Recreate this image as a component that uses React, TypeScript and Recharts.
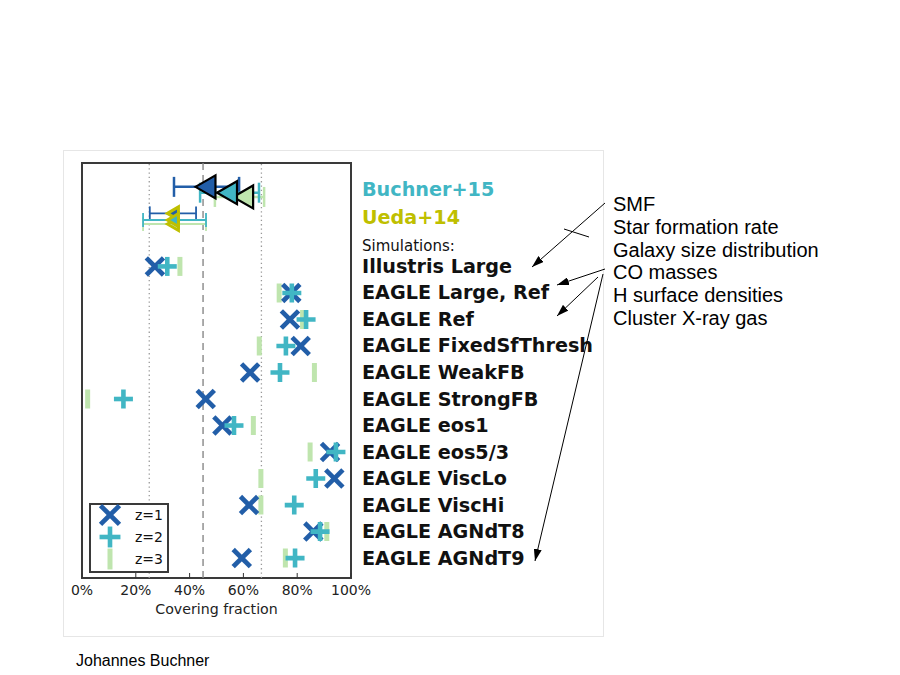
import React from 'react';
import {
  ScatterChart,
  Scatter,
  XAxis,
  YAxis,
  ErrorBar,
  ReferenceLine,
  ReferenceArea,
  Legend,
} from 'recharts';

// ---------- data ----------
const redshifts = ['z=1', 'z=2', 'z=3'];

const simNames = [
  'Illustris Large',
  'EAGLE Large, Ref',
  'EAGLE Ref',
  'EAGLE FixedSfThresh',
  'EAGLE WeakFB',
  'EAGLE StrongFB',
  'EAGLE eos1',
  'EAGLE eos5/3',
  'EAGLE ViscLo',
  'EAGLE ViscHi',
  'EAGLE AGNdT8',
  'EAGLE AGNdT9',
];
const simZ1 = [27.1, 77.8, 77.3, 81.3, 62.5, 46.0, 52.2, 92.2, 93.8, 62.1, 86.0, 59.4];
const simZ2 = [31.7, 78.0, 83.3, 75.8, 73.6, 15.4, 56.5, 94.4, 86.9, 78.9, 88.5, 79.2];
const simZ3 = [36.4, 73.3, 82.0, 65.9, 86.4, 2.1, 63.7, 84.8, 66.5, 66.5, 91.0, 75.6];

const buchnerValue = [45.9, 53.9, 59.9];
const buchnerLow = [34.2, 43.9, 49.4];
const buchnerHigh = [58.4, 65.8, 67.7];
const buchnerRow = [-3.0, -2.78, -2.62];

const uedaValue = [33.8, 33.8, 33.8];
const uedaLow = [25.2, 22.7, 22.7];
const uedaHigh = [42.4, 46.1, 46.1];
const uedaRow = [-2.0, -1.75, -1.6];

const headerLabels = ['Buchner+15', 'Ueda+14', 'Simulations:'];
const headerRows = [-2.92, -1.85, -0.8];

const xTicks = [0, 20, 40, 60, 80, 100];
const refDotted = [25, 66.7];
const refDashed = [45];

const annotationLines = [
  'SMF',
  'Star formation rate',
  'Galaxy size distribution',
  'CO masses',
  'H surface densities',
  'Cluster X-ray gas',
];

// ---------- styles ----------
const zColors = ['#225ea8', '#41b6c4', '#bfe5ae'];
const OLIVE = '#bfbf00';
const drawOrder = [2, 0, 1];

const simSeries = [simZ1, simZ2, simZ3].map((vals) =>
  vals.map((x, i) => ({ x, y: i, name: simNames[i] }))
);
const buchnerSeries = buchnerValue.map((x, k) => [
  { x, y: buchnerRow[k], err: [x - buchnerLow[k], buchnerHigh[k] - x] },
]);
const uedaSeries = uedaValue.map((x, k) => [
  { x, y: uedaRow[k], err: [x - uedaLow[k], uedaHigh[k] - x] },
]);
const yTicks = [...headerRows, ...simNames.map((_, i) => i)];

// ---------- marker shapes ----------
const drawMarker = (k: number, cx: number, cy: number, scale = 1) => {
  const c = zColors[k];
  if (k === 0) {
    const h = 8.6 * scale;
    return (
      <g>
        <line x1={cx - h} y1={cy - h} x2={cx + h} y2={cy + h} stroke={c} strokeWidth={4.7} />
        <line x1={cx - h} y1={cy + h} x2={cx + h} y2={cy - h} stroke={c} strokeWidth={4.7} />
      </g>
    );
  }
  if (k === 1) {
    const h = 9.5 * scale;
    return (
      <g>
        <line x1={cx - h} y1={cy} x2={cx + h} y2={cy} stroke={c} strokeWidth={4.6} />
        <line x1={cx} y1={cy - h} x2={cx} y2={cy + h} stroke={c} strokeWidth={4.6} />
      </g>
    );
  }
  const h = 9.5 * scale;
  return <line x1={cx} y1={cy - h} x2={cx} y2={cy + h} stroke={c} strokeWidth={5} />;
};

const triPoints = (cx: number, cy: number, w: number, h: number) =>
  `${cx - w / 2},${cy} ${cx + w / 2},${cy - h / 2} ${cx + w / 2},${cy + h / 2}`;

const RowTick = (props: any) => {
  const { x, y, payload } = props;
  const v = payload.value;
  const hi = headerRows.indexOf(v);
  if (hi === 0 || hi === 1) {
    return (
      <text x={x} y={y} dy={7} fontFamily="DejaVu Sans" fontWeight="bold" fontSize={19.2}
        fill={hi === 0 ? '#41b6c4' : OLIVE}>
        {headerLabels[hi]}
      </text>
    );
  }
  if (hi === 2) {
    return (
      <text x={x} y={y} dy={6} fontFamily="DejaVu Sans" fontSize={15} fill="#111">
        {headerLabels[hi]}
      </text>
    );
  }
  return (
    <text x={x} y={y} dy={6.5} fontFamily="DejaVu Sans" fontWeight="bold" fontSize={19.2} fill="#111">
      {simNames[v]}
    </text>
  );
};

const LegendBox = () => (
  <svg width={80} height={70} style={{ display: 'block' }}>
    <rect x={1} y={1} width={78} height={68} fill="#fff" stroke="#3a3a3a" strokeWidth={2} />
    {redshifts.map((z, k) => (
      <g key={z}>
        {drawMarker(k, 21, 12 + k * 22, 1.1)}
        <text x={46} y={12 + k * 22 + 5} fontFamily="DejaVu Sans" fontSize={14} fill="#111">
          {z}
        </text>
      </g>
    ))}
  </svg>
);

const arrowSegments = [
  [605, 203, 532, 267],
  [605, 269, 557, 285],
  [598, 277, 557, 316],
  [603, 274, 535, 561],
];

export default function App() {
  return (
    <div style={{ position: 'absolute', left: 0, top: 0, width: 900, height: 675, background: '#fff' }}>
      <svg width={900} height={675} style={{ position: 'absolute', left: 0, top: 0 }}>
        <rect x={63.5} y={150.5} width={540} height={486} fill="none" stroke="#e6e6e6" strokeWidth={1} />
      </svg>
      <div style={{ position: 'absolute', left: 0, top: 0 }}>
        <ScatterChart width={900} height={675} margin={{ top: 163, left: 82, right: 309, bottom: 57 }}>
          <XAxis
            xAxisId={0}
            dataKey="x"
            type="number"
            domain={[0, 100]}
            ticks={xTicks}
            interval={0}
            tickFormatter={(v: number) => `${v}%`}
            axisLine={false}
            tickSize={-5}
            tickMargin={12}
            tickLine={{ stroke: '#333' }}
            tick={{ fontFamily: 'DejaVu Sans', fontSize: 14, fill: '#222' }}
            height={40}
            label={{
              value: 'Covering fraction',
              position: 'insideBottom',
              offset: 4,
              style: { fontFamily: 'DejaVu Sans', fontSize: 14.2, fill: '#222' },
            }}
          />
          <XAxis
            xAxisId="top"
            orientation="top"
            type="number"
            domain={[0, 100]}
            ticks={xTicks}
            interval={0}
            axisLine={false}
            tick={false}
            tickSize={-5}
            tickLine={{ stroke: '#333' }}
            height={0}
          />
          <YAxis
            yAxisId={0}
            dataKey="y"
            type="number"
            orientation="right"
            domain={[-3.9, 11.75]}
            reversed
            allowDataOverflow
            ticks={yTicks}
            interval={0}
            axisLine={false}
            tickLine={false}
            tickSize={0}
            tickMargin={11}
            width={240}
            tick={<RowTick />}
          />
          {refDotted.map((v) => (
            <ReferenceLine key={v} x={v} stroke="#999" strokeWidth={1.3} strokeDasharray="1.3 3" />
          ))}
          {refDashed.map((v) => (
            <ReferenceLine key={v} x={v} stroke="#888" strokeWidth={1.4} strokeDasharray="7 5" />
          ))}
          {drawOrder.map((k) => (
            <Scatter
              key={`b${k}`}
              name={`Buchner ${redshifts[k]}`}
              data={buchnerSeries[k]}
              isAnimationActive={false}
              legendType="none"
              shape={(p: any) => (
                <polygon points={triPoints(p.cx, p.cy, 20, 23)} fill={zColors[k]} stroke="#000" strokeWidth={2.2} />
              )}
            >
              <ErrorBar dataKey="err" direction="x" width={10} stroke={zColors[k]} strokeWidth={2.5} />
            </Scatter>
          ))}
          {drawOrder.map((k) => (
            <Scatter
              key={`u${k}`}
              name={`Ueda ${redshifts[k]}`}
              data={uedaSeries[k]}
              isAnimationActive={false}
              legendType="none"
              shape={(p: any) => (
                <polygon points={triPoints(p.cx, p.cy, 11, 13)} fill={zColors[k]} stroke={OLIVE} strokeWidth={3} />
              )}
            >
              <ErrorBar dataKey="err" direction="x" width={7} stroke={zColors[k]} strokeWidth={1.8} />
            </Scatter>
          ))}
          {drawOrder.map((k) => (
            <Scatter
              key={`s${k}`}
              name={redshifts[k]}
              data={simSeries[k]}
              isAnimationActive={false}
              shape={(p: any) => drawMarker(k, p.cx, p.cy)}
            />
          ))}
          <ReferenceArea x1={0} x2={100} y1={-3.9} y2={11.75} fill="none" fillOpacity={0} stroke="#3a3a3a" strokeWidth={2} />
          <Legend
            layout="vertical"
            align="center"
            verticalAlign="middle"
            wrapperStyle={{ left: 89, top: 503, width: 80, height: 70 }}
            content={() => <LegendBox />}
          />
        </ScatterChart>
      </div>
      <svg width={900} height={675} style={{ position: 'absolute', left: 0, top: 0, pointerEvents: 'none' }}>
        <defs>
          <marker id="ah" viewBox="0 0 12 8" refX={12} refY={4} markerWidth={12} markerHeight={8}
            markerUnits="userSpaceOnUse" orient="auto">
            <path d="M0,0 L12,4 L0,8 z" fill="#000" />
          </marker>
        </defs>
        {arrowSegments.map(([x1, y1, x2, y2], i) => (
          <line key={i} x1={x1} y1={y1} x2={x2} y2={y2} stroke="#000" strokeWidth={1} markerEnd="url(#ah)" />
        ))}
        <line x1={564} y1={229} x2={589} y2={237} stroke="#000" strokeWidth={1} />
        {annotationLines.map((t, i) => (
          <text key={t} x={613} y={211 + i * 22.8} fontFamily="Liberation Sans" fontSize={20} fill="#000">
            {t}
          </text>
        ))}
        <text x={76} y={666} fontFamily="Liberation Sans" fontSize={16} fill="#000">
          Johannes Buchner
        </text>
      </svg>
    </div>
  );
}
